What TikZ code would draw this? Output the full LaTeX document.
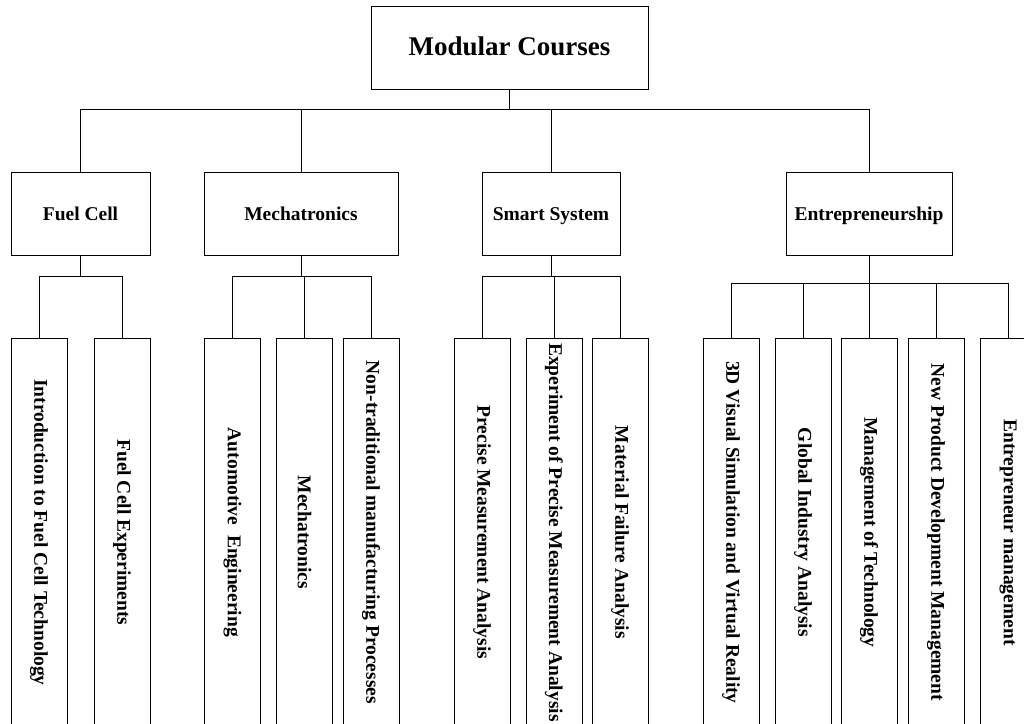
\documentclass[tikz,border=0pt]{standalone}
\usepackage{fontspec}
\setmainfont{Liberation Serif}
\usepackage{tikz}
\usetikzlibrary{positioning}
\newcommand\vt[1]{%
	\rotatebox{-90}{#1}%
}

\begin{document}
\begin{tikzpicture}[x=1pt,y=-1pt,line width=0.8pt,
	box/.style={draw, minimum height=83pt, inner sep=0pt, text height=13pt, text depth=0pt, font=\bfseries\fontsize{19.5}{21}\selectfont},
	leaf/.style={draw, anchor=north, minimum width=56pt, minimum height=388pt, inner sep=0pt, font=\bfseries\fontsize{19.5}{21}\selectfont}]
\useasboundingbox (0,0) rectangle (1024,723);

\node[box, minimum width=277pt, text height=15pt, font=\bfseries\fontsize{27}{29}\selectfont] (root) at (509.5,47.5) {Modular Courses};

\node[box, minimum width=139pt] (fc) at (80.5,213.5) {Fuel Cell};
\node[box, minimum width=194pt] (mech) at (301,213.5) {Mechatronics};
\node[box, minimum width=138pt] (smart) at (551,213.5) {Smart System};
\node[box, minimum width=166pt] (entre) at (869,213.5) {Entrepreneurship};

\node[leaf] (l1) at (39,338) {\vt{Introduction to Fuel Cell Technology}};
\node[leaf] (l2) at (122,338) {\vt{Fuel Cell Experiments}};
\node[leaf] (l3) at (232.5,338) {\vt{Automotive\ \ Engineering}};
\node[leaf] (l4) at (304.5,338) {\vt{Mechatronics}};
\node[leaf] (l5) at (371,338) {\vt{Non-traditional manufacturing Processes}};
\node[leaf] (l6) at (482,338) {\vt{Precise Measurement Analysis}};
\node[leaf] (l7) at (554,338) {\vt{Experiment of Precise Measurement Analysis}};
\node[leaf] (l8) at (620,338) {\vt{Material Failure Analysis}};
\node[leaf] (l9) at (731,338) {\vt{3D Visual Simulation and Virtual Reality}};
\node[leaf] (l10) at (803,338) {\vt{Global Industry Analysis}};
\node[leaf] (l11) at (869,338) {\vt{Management of Technology}};
\node[leaf] (l12) at (936,338) {\vt{New Product Development Management}};
\node[leaf] (l13) at (1008,338) {\vt{Entrepreneur management}};

\coordinate (rj) at ([yshift=-20pt]root.south);
\coordinate (fj) at ([yshift=-21pt]fc.south);
\coordinate (mj) at ([yshift=-21pt]mech.south);
\coordinate (sj) at ([yshift=-21pt]smart.south);
\coordinate (ej) at ([yshift=-28pt]entre.south);

\draw (root.south) -- (rj);
\foreach \c in {fc,mech,smart,entre}
	\draw (rj) -| (\c.north);
\draw (fc.south) -- (fj);
\draw (mech.south) -- (mj);
\draw (smart.south) -- (sj);
\draw (entre.south) -- (ej);
\foreach \l in {l1,l2}
	\draw (fj) -| (\l.north);
\foreach \l in {l3,l4,l5}
	\draw (mj) -| (\l.north);
\foreach \l in {l6,l7,l8}
	\draw (sj) -| (\l.north);
\foreach \l in {l9,l10,l11,l12,l13}
	\draw (ej) -| (\l.north);
\end{tikzpicture}
\end{document}
